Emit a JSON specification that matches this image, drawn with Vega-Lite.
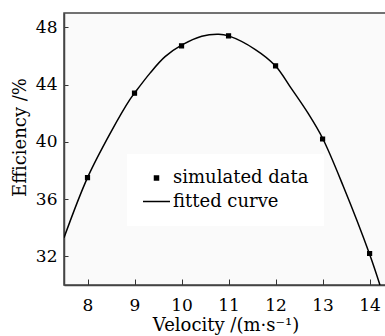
{
  "$schema": "https://vega.github.io/schema/vega-lite/v6.json",
  "width": 323,
  "height": 272,
  "autosize": {"type": "none"},
  "padding": {"left": 64, "top": 13, "right": 0, "bottom": 51},
  "background": "white",
  "config": {
    "font": "DejaVu Serif",
    "view": {"stroke": "#444", "strokeWidth": 1.5, "fill": "#fafafa"},
    "axis": {
      "grid": false,
      "domainColor": "#444",
      "domainWidth": 1.5,
      "tickColor": "#333",
      "tickWidth": 1,
      "labelFont": "DejaVu Serif",
      "labelFontSize": 17,
      "labelColor": "black",
      "titleFont": "DejaVu Serif",
      "titleFontSize": 18,
      "titleFontWeight": "normal",
      "titleColor": "black"
    }
  },
  "layer": [
    {
      "data": {
        "values": [
          {"v": 7.5, "e": 33.3},
          {"v": 8.0, "e": 37.5},
          {"v": 8.5, "e": 40.7},
          {"v": 8.9, "e": 42.95},
          {"v": 9.0, "e": 43.4},
          {"v": 9.33, "e": 44.8},
          {"v": 9.65, "e": 45.95},
          {"v": 10.0, "e": 46.75},
          {"v": 10.43, "e": 47.38},
          {"v": 10.79, "e": 47.52},
          {"v": 11.0, "e": 47.4},
          {"v": 11.57, "e": 46.45},
          {"v": 12.0, "e": 45.3},
          {"v": 12.33, "e": 43.75},
          {"v": 12.69, "e": 42.0},
          {"v": 13.0, "e": 40.25},
          {"v": 13.44, "e": 36.9},
          {"v": 14.0, "e": 32.15},
          {"v": 14.22, "e": 30.0}
        ]
      },
      "mark": {"type": "line", "color": "black", "strokeWidth": 1.5, "interpolate": "catmull-rom", "clip": true},
      "encoding": {
        "x": {
          "field": "v", "type": "quantitative",
          "scale": {"domain": [7.5, 14.37], "nice": false, "zero": false},
          "axis": {"values": [8, 9, 10, 11, 12, 13, 14], "tickSize": -6, "labelPadding": 18, "title": "Velocity /(m·s⁻¹)", "titlePadding": 3}
        },
        "y": {
          "field": "e", "type": "quantitative",
          "scale": {"domain": [30, 49], "nice": false, "zero": false},
          "axis": {"values": [32, 36, 40, 44, 48], "tickSize": -4, "labelPadding": 11, "title": "Efficiency /%", "titleX": -44, "titleY": 124, "titleBaseline": "middle", "titleAlign": "center"}
        }
      }
    },
    {
      "data": {
        "values": [
          {"v": 8, "e": 37.5, "series": "simulated data"},
          {"v": 9, "e": 43.4, "series": "simulated data"},
          {"v": 10, "e": 46.7, "series": "simulated data"},
          {"v": 11, "e": 47.4, "series": "simulated data"},
          {"v": 12, "e": 45.3, "series": "simulated data"},
          {"v": 13, "e": 40.2, "series": "simulated data"},
          {"v": 14, "e": 32.2, "series": "simulated data"}
        ]
      },
      "mark": {"type": "point", "filled": true, "color": "black", "stroke": "black", "strokeWidth": 1.2, "opacity": 1},
      "encoding": {
        "x": {"field": "v", "type": "quantitative"},
        "y": {"field": "e", "type": "quantitative"},
        "shape": {
          "field": "series", "type": "ordinal",
          "scale": {"domain": ["simulated data", "fitted curve"], "range": ["square", "stroke"]},
          "legend": {
            "title": null, "orient": "none", "legendX": 63, "legendY": 141, "padding": 15,
            "fillColor": "white", "labelFontSize": 18, "labelFont": "DejaVu Serif", "labelColor": "black",
            "labelOffset": 2, "rowPadding": -8,
            "encode": {"symbols": {"update": {"stroke": {"value": "black"}, "strokeWidth": {"value": 1.5}, "fill": {"value": "black"}, "opacity": {"value": 1}}}}
          }
        },
        "size": {
          "field": "series", "type": "ordinal",
          "scale": {"domain": ["simulated data", "fitted curve"], "range": [16, 729]},
          "legend": {
            "title": null, "orient": "none", "legendX": 63, "legendY": 141, "padding": 15,
            "fillColor": "white", "labelFontSize": 18, "labelFont": "DejaVu Serif", "labelColor": "black",
            "labelOffset": 2, "rowPadding": -8,
            "encode": {"symbols": {"update": {"stroke": {"value": "black"}, "strokeWidth": {"value": 1.5}, "fill": {"value": "black"}, "opacity": {"value": 1}}}}
          }
        }
      }
    }
  ]
}
